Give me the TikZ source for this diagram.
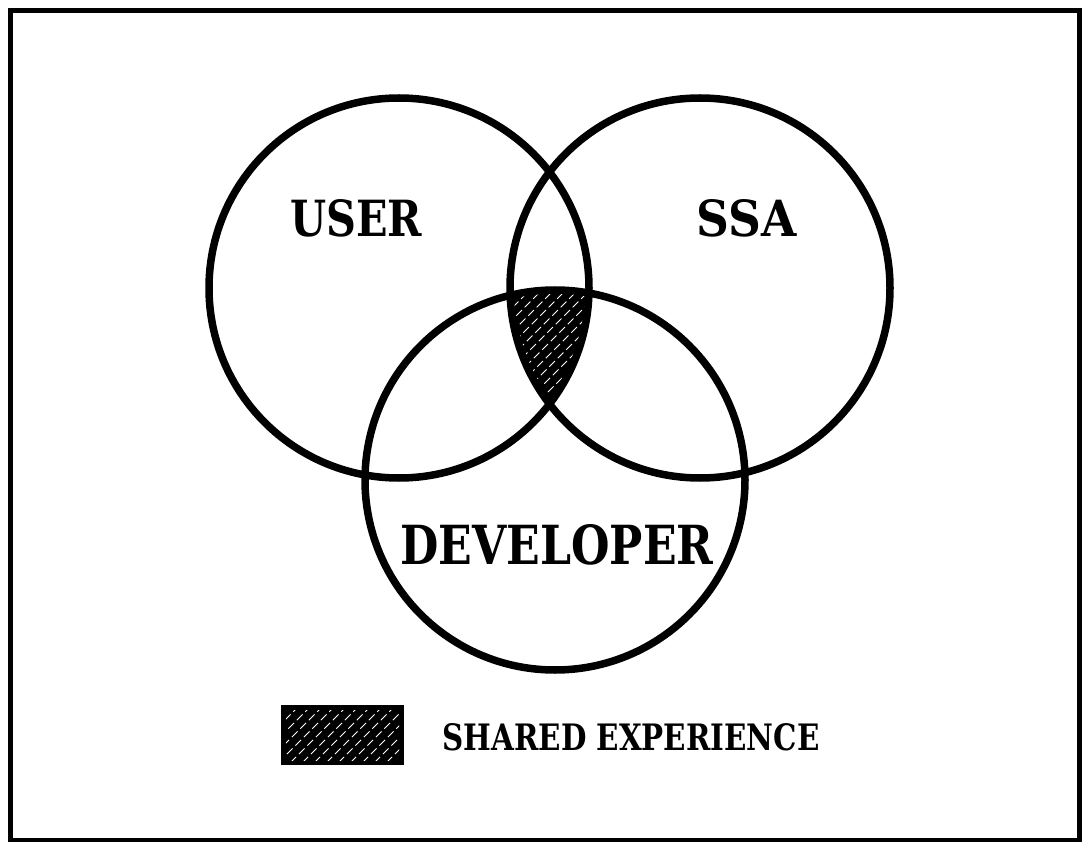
\documentclass[tikz,border=0pt]{standalone}
\usepackage{fontspec}
\setmainfont{DejaVu Serif}
\usepackage{graphicx}
\tikzset{
  ring/.style={draw=black, line width=7.5pt},
  lbl/.style={inner sep=0pt, font=\bfseries},
  hatch/.style={white, line width=1pt, dash pattern=on 8pt off 4pt},
  frame/.style={draw=black, line width=5pt},
  keybox/.style={fill=black, draw=black, line width=2pt}
}
\begin{document}
\begin{tikzpicture}[x=1pt,y=-1pt]
\useasboundingbox (0,0) rectangle (1082,842);
\draw[frame] (10,11) rectangle (1079,840);
\coordinate (cu) at (399,288);
\coordinate (cs) at (700,288);
\coordinate (cd) at (555,480);
% shared region
\begin{scope}
  \clip (cu) circle[radius=190pt];
  \clip (cs) circle[radius=190pt];
  \fill[black] (cd) circle[radius=190pt];
  \foreach \k in {-16,...,16}
    \draw[hatch] (550+\k*12-130,460) -- ++(260,-260);
\end{scope}
% circles
\draw[ring] (cu) circle[radius=190pt];
\draw[ring] (cs) circle[radius=190pt];
\draw[ring] (cd) circle[radius=190pt];
% labels
\node[lbl] (user) at (356,218) {\resizebox{132pt}{37pt}{USER}};
\node[lbl] (ssa) at (747,218) {\resizebox{100pt}{37pt}{SSA}};
\node[lbl] (dev) at (557,545) {\resizebox{313pt}{40pt}{DEVELOPER}};
% legend
\begin{scope}
  \path[keybox] (282,706) rectangle (403,764);
  \clip (286,710) rectangle (399,760);
  \foreach \k in {-10,...,10}
    \draw[hatch] (342+\k*12-70,805) -- ++(140,-140);
\end{scope}
\node[lbl] (key) at (631,737) {\resizebox{377pt}{27pt}{SHARED EXPERIENCE}};
\end{tikzpicture}
\end{document}
